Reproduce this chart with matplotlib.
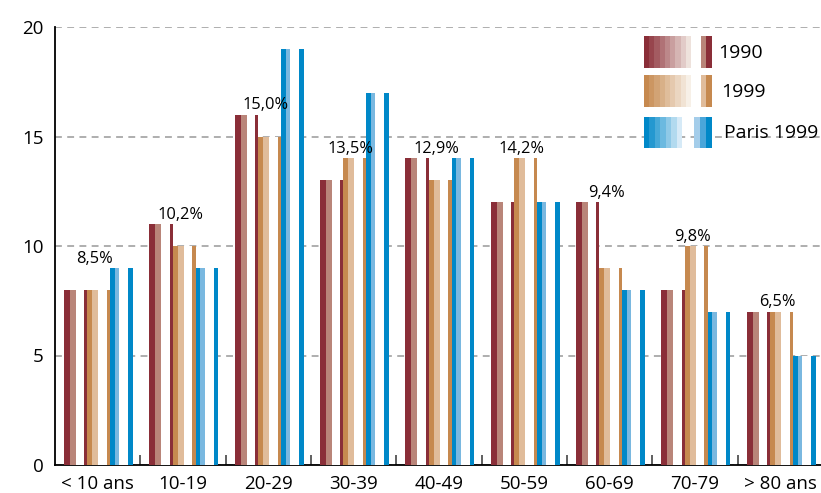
import matplotlib
matplotlib.use("Agg")
import matplotlib.pyplot as plt
import matplotlib.colors as mcolors
from matplotlib.patches import Rectangle
import numpy as np

plt.rcParams['font.family'] = ['Open Sans', 'DejaVu Sans']

# data
groups = ["< 10 ans", "10-19", "20-29", "30-39", "40-49", "50-59", "60-69", "70-79", "> 80 ans"]
v1990 = [8, 11, 16, 13, 14, 12, 12, 8, 7]
v1999 = [8, 10, 15, 14, 13, 14, 9, 10, 7]
paris1999 = [9, 9, 19, 17, 14, 12, 8, 7, 5]
pct_labels = ["8,5%", "10,2%", "15,0%", "13,5%", "12,9%", "14,2%", "9,4%", "9,8%", "6,5%"]
pct_heights = [9, 11, 16, 14, 14, 14, 12, 10, 7]
series_names = ["1990", "1999", "Paris 1999"]

# colours: (dark, light)
colors = [("#8a2e38", "#b98579"), ("#c6894f", "#e0bc9b"), ("#0088c8", "#7ab8e0")]

# bar pieces in pixels inside one group (group stride = 85.4 px)
STRIDE = 85.4
pieces = [  # start, dark end, light end, white end, thin end
    (9.0, 15.0, 21.0, 29.5, 32.5),
    (32.5, 37.5, 43.5, 52.0, 55.5),
    (55.5, 60.0, 64.5, 73.5, 78.0),
]

fig = plt.figure(figsize=(8.21, 4.93), dpi=100)
ax = fig.add_axes([55 / 821, 28 / 493, 768 / 821, 438 / 493])
ax.set_xlim(0, 9)
ax.set_ylim(0, 20)

x = np.arange(len(groups))
for vals, (dark, light), p in zip([v1990, v1999, paris1999], colors, pieces):
    s, d, l, w, t = [v / STRIDE for v in p]
    ax.bar(x + s, vals, width=t - s, align='edge', color='white', zorder=3, linewidth=0)
    ax.bar(x + s, vals, width=d - s, align='edge', color=dark, zorder=4, linewidth=0)
    ax.bar(x + d, vals, width=l - d, align='edge', color=light, zorder=4, linewidth=0)
    ax.bar(x + w, vals, width=t - w, align='edge', color=dark, zorder=4, linewidth=0)

for i, (lab, h) in enumerate(zip(pct_labels, pct_heights)):
    ax.annotate(lab, (i + 40 / STRIDE, h), xytext=(0, 1), textcoords='offset points',
                ha='center', va='bottom', fontsize=11.8, zorder=6)

ax.set_yticks([0, 5, 10, 15, 20])
ax.tick_params(axis='y', length=0, pad=8, labelsize=13.5)
ax.set_xticks(x + 0.5)
ax.set_xticklabels(groups)
ax.tick_params(axis='x', which='major', length=0, pad=7, labelsize=13.5)
ax.set_xticks(np.arange(1, 9), minor=True)
ax.tick_params(axis='x', which='minor', direction='in', length=7.5, width=1.2, color='#444444')

ax.yaxis.grid(True, linestyle=(0, (4.5, 3.5)), color='#999999', linewidth=1.1)
ax.set_axisbelow(True)
for sp in ['top', 'right']:
    ax.spines[sp].set_visible(False)
ax.spines['left'].set_linewidth(1.3)
ax.spines['bottom'].set_linewidth(1.3)

# legend drawn in pixel coordinates
lg = fig.add_axes([0, 0, 1, 1], facecolor='none')
lg.set_xlim(0, 821)
lg.set_ylim(493, 0)
lg.axis('off')

legend_rows = [
    # y0, y1, grad end, n stripes, end colour, small swatch colours, text x
    (36, 68, 691, 9, "#eee2dc", [(701, "#b98579"), (706, "#8a2e38")], 718),
    (75, 107, 691, 9, "#f7f0e7", [(701, "#e0bc9b"), (706, "#c6894f")], 721),
    (117, 148, 682, 7, "#d6eaf7", [(694, "#a4cdea"), (700, "#4aa6da"), (706, "#0088c8")], 724),
]
for name, (dark, _), (y0, y1, gx1, n, end_c, small, tx) in zip(series_names, colors, legend_rows):
    c0 = np.array(mcolors.to_rgb(dark))
    c1 = np.array(mcolors.to_rgb(end_c))
    sw = (gx1 - 644) / n
    for k in range(n):
        c = c0 + (c1 - c0) * k / (n - 1)
        lg.add_patch(Rectangle((644 + k * sw, y0), sw + 0.3, y1 - y0, color=c, linewidth=0))
    edges = [sx for sx, _ in small] + [712]
    for (sx, sc), ex in zip(small, edges[1:]):
        lg.add_patch(Rectangle((sx, y0), ex - sx, y1 - y0, color=sc, linewidth=0))
    lg.text(tx, (y0 + y1) / 2 + 1, name, fontsize=14, va='center', ha='left')

fig.savefig("out.png", dpi=100)
